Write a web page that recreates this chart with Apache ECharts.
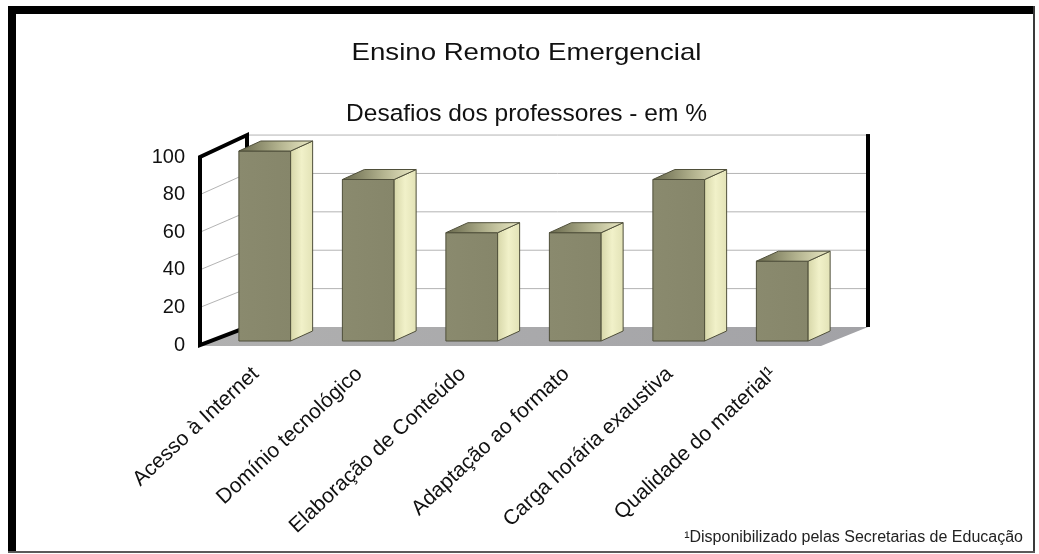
<!DOCTYPE html>
<html>
<head>
<meta charset="utf-8">
<script src="https://cdn.jsdelivr.net/npm/echarts@6/dist/echarts.min.js"></script>
<style>
html,body{margin:0;padding:0;background:#fff;}
#chart{width:1039px;height:554px;}
</style>
</head>
<body>
<div id="chart"></div>
<script>
const categories = ['Acesso à Internet', 'Domínio tecnológico', 'Elaboração de Conteúdo', 'Adaptação ao formato', 'Carga horária exaustiva', 'Qualidade do material¹'];
const values = [100, 85, 57, 57, 85, 42];
const yTicks = [0, 20, 40, 60, 80, 100];
const titleText = 'Ensino Remoto Emergencial';
const subtitleText = 'Desafios dos professores - em %';
const footnoteText = '¹Disponibilizado pelas Secretarias de Educação';

const FONT = '"Liberation Sans", Arial, sans-serif';
// room depth (oblique projection)
const DX = 47, DY = 18, BACK_SCALE = 1.021;
// bar depth
const SX = 22, SY = 10;

const chart = echarts.init(document.getElementById('chart'), null, {renderer: 'canvas'});

function roomItem(params, api) {
  const v = api.value(1);
  const bw = api.size([1, 0])[0];
  const c0 = api.coord([0, 0]);
  const xL = c0[0] - bw / 2;
  const xR = xL + bw * categories.length;
  const yBase = c0[1];
  const backY = val => yBase - DY - (yBase - api.coord([0, val])[1]) * BACK_SCALE;
  const frontY = val => api.coord([0, val])[1];
  const children = [];
  const grid = '#b4b4b4';
  if (params.dataIndex === 0) {
    const vMax = yTicks[yTicks.length - 1];
    children.push({type: 'polygon', z2: 0, shape: {points: [[xL, yBase + 1], [xR, yBase + 1], [xR + DX, yBase - DY], [xL + DX, yBase - DY]]},
      style: {fill: new echarts.graphic.LinearGradient(0, 0, 1, 0, [{offset: 0, color: '#b0b0b0'}, {offset: 1, color: '#a2a2a6'}])}});
    children.push({type: 'polygon', z2: 1, shape: {points: [[xL, yBase], [xL, frontY(vMax)], [xL + DX, backY(vMax)], [xL + DX, backY(0)]]},
      style: {fill: '#ffffff'}});
    children.push({type: 'polygon', z2: 10, shape: {points: [[xL, yBase], [xL, frontY(vMax)], [xL + DX, backY(vMax)], [xL + DX, backY(0)]]},
      style: {fill: null, stroke: '#000', lineWidth: 4, lineJoin: 'miter'}});
    children.push({type: 'line', z2: 10, shape: {x1: xR + DX, y1: backY(0), x2: xR + DX, y2: backY(vMax) - 1},
      style: {stroke: '#000', lineWidth: 4}});
  }
  if (v > 0 && v < yTicks[yTicks.length - 1]) {
    children.push({type: 'line', z2: 5, shape: {x1: xL, y1: frontY(v), x2: xL + DX, y2: backY(v)},
      style: {stroke: grid, lineWidth: 1}});
  }
  if (v > 0) {
    children.push({type: 'line', z2: 5, shape: {x1: xL + DX, y1: backY(v), x2: xR + DX, y2: backY(v)},
      style: {stroke: grid, lineWidth: 1}});
  }
  return {type: 'group', children: children};
}

function barItem(params, api) {
  const i = api.value(0);
  const v = api.value(1);
  const top = api.coord([i, v]);
  const bot = api.coord([i, 0]);
  const w = api.size([1, 0])[0] * 0.5;
  const x1 = top[0] - w / 2, x2 = top[0] + w / 2;
  const yT = top[1], yB = bot[1];
  const edge = '#4f4f3a';
  return {type: 'group', children: [
    {type: 'polygon', shape: {points: [[x1, yB], [x2, yB], [x2, yT], [x1, yT]]},
      style: {fill: new echarts.graphic.LinearGradient(0, 0, 1, 0, [{offset: 0, color: '#8a8a6e'}, {offset: 1, color: '#86866a'}]), stroke: edge, lineWidth: 1}},
    {type: 'polygon', shape: {points: [[x2, yB], [x2 + SX, yB - SY], [x2 + SX, yT - SY], [x2, yT]]},
      style: {fill: new echarts.graphic.LinearGradient(0, 0, 1, 0, [{offset: 0, color: '#d6d6a8'}, {offset: 0.5, color: '#f1f1c9'}, {offset: 1, color: '#e2e2b6'}]), stroke: edge, lineWidth: 1}},
    {type: 'polygon', shape: {points: [[x1, yT], [x2, yT], [x2 + SX, yT - SY], [x1 + SX, yT - SY]]},
      style: {fill: new echarts.graphic.LinearGradient(0, 0, 1, 0, [{offset: 0, color: '#66664a'}, {offset: 0.55, color: '#b3b38f'}, {offset: 1, color: '#ecebc6'}]), stroke: edge, lineWidth: 1}}
  ]};
}

const hiddenCat = {axisLine: {show: false}, axisTick: {show: false}, axisLabel: {show: false}, splitLine: {show: false}};

const option = {
  animation: false,
  backgroundColor: '#ffffff',
  grid: [
    {left: 200, right: 218, top: 157, bottom: 209},
    {left: 213, right: 205, top: 151, bottom: 213},
    {left: 204, right: 214, top: 151, bottom: 213}
  ],
  xAxis: [
    Object.assign({type: 'category', gridIndex: 0, data: categories, boundaryGap: true}, hiddenCat),
    Object.assign({type: 'category', gridIndex: 1, data: categories, boundaryGap: true}, hiddenCat),
    {type: 'category', gridIndex: 2, data: categories, boundaryGap: true,
      axisLine: {show: false}, axisTick: {show: false}, splitLine: {show: false},
      axisLabel: {interval: 0, rotate: 43, margin: 30, fontSize: 21, color: '#111', fontFamily: FONT}}
  ],
  yAxis: [
    {type: 'value', gridIndex: 0, min: 0, max: 100, interval: 20,
      axisLine: {show: false}, axisTick: {show: false}, splitLine: {show: false},
      axisLabel: {margin: 15, fontSize: 20, color: '#111', fontFamily: FONT}},
    {type: 'value', gridIndex: 1, min: 0, max: 100, interval: 20, show: false},
    {type: 'value', gridIndex: 2, min: 0, max: 100, interval: 20, show: false}
  ],
  series: [
    {type: 'custom', name: 'room', xAxisIndex: 0, yAxisIndex: 0, z: 1, silent: true,
      data: yTicks.map(t => [0, t]), encode: {x: 0, y: 1}, renderItem: roomItem},
    {type: 'custom', name: 'Desafios', xAxisIndex: 1, yAxisIndex: 1, z: 3,
      data: values.map((v, i) => [i, v]), encode: {x: 0, y: 1}, renderItem: barItem}
  ],
  graphic: [
    {type: 'rect', z: 100, shape: {x: 8, y: 6, width: 8, height: 547}, style: {fill: '#000'}},
    {type: 'rect', z: 100, shape: {x: 8, y: 6, width: 1027, height: 8}, style: {fill: '#000'}},
    {type: 'rect', z: 100, shape: {x: 1033, y: 6, width: 2, height: 547}, style: {fill: '#3a3a3a'}},
    {type: 'rect', z: 100, shape: {x: 8, y: 551, width: 1027, height: 2}, style: {fill: '#5a5a5a'}},
    {type: 'text', z: 100, x: 526.5, y: 53, scaleX: 1.15,
      style: {text: titleText, fontSize: 24, fontFamily: FONT, fill: '#111', textAlign: 'center', textVerticalAlign: 'middle'}},
    {type: 'text', z: 100, x: 526.5, y: 114,
      style: {text: subtitleText, fontSize: 24.5, fontFamily: FONT, fill: '#111', textAlign: 'center', textVerticalAlign: 'middle'}},
    {type: 'text', z: 100, x: 1023, y: 538,
      style: {text: footnoteText, fontSize: 16, fontFamily: FONT, fill: '#222', textAlign: 'right', textVerticalAlign: 'middle'}}
  ]
};
chart.setOption(option);
</script>
</body>
</html>
